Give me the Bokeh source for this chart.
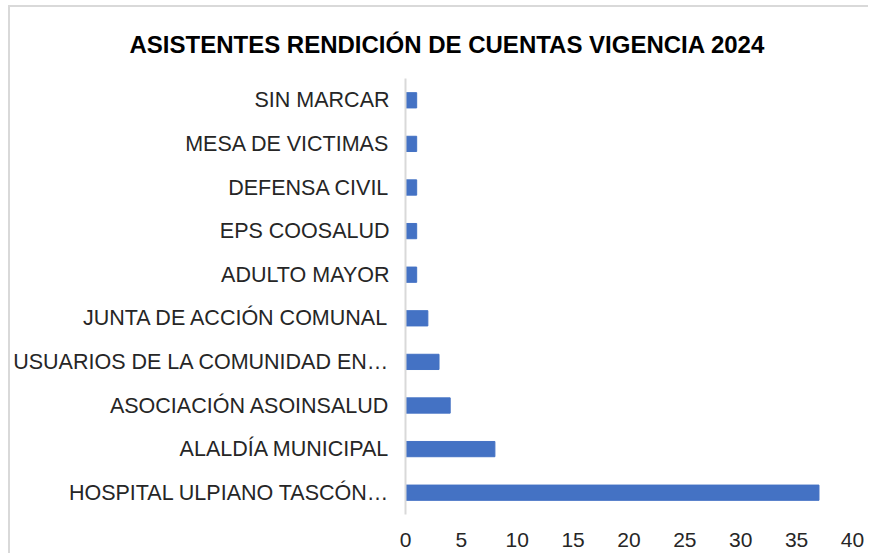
from bokeh.plotting import figure
from bokeh.models import FactorRange, Range1d, FixedTicker
from bokeh.embed import file_html
from bokeh.resources import INLINE

# Data (bottom to top)
categories = [
    "HOSPITAL ULPIANO TASCÓN…",
    "ALALDÍA MUNICIPAL",
    "ASOCIACIÓN ASOINSALUD",
    "USUARIOS DE LA COMUNIDAD EN…",
    "JUNTA DE ACCIÓN COMUNAL",
    "ADULTO MAYOR",
    "EPS COOSALUD",
    "DEFENSA CIVIL",
    "MESA DE VICTIMAS",
    "SIN MARCAR",
]
values = [37, 8, 4, 3, 2, 1, 1, 1, 1, 1]
x_ticks = [0, 5, 10, 15, 20, 25, 30, 35, 40]
title_text = "ASISTENTES RENDICIÓN DE CUENTAS VIGENCIA 2024"

FONT = "Liberation Sans"

p = figure(
    width=860, height=548,
    y_range=FactorRange(*categories, range_padding=0),
    x_range=Range1d(0, 40),
    output_backend="svg", toolbar_location=None,
    min_border_left=394, min_border_right=18,
    min_border_top=71, min_border_bottom=41,
)
p.styles = {"border-left": "2px solid #d9d9d9", "border-top": "2px solid #d9d9d9",
            "margin-left": "8px", "margin-top": "5px"}
p.outline_line_color = None
p.background_fill_color = "white"
p.border_fill_color = "white"

p.title.text = title_text
p.title.align = "left"
p.title.offset = -276
p.title.standoff = 42
p.title.text_font = FONT
p.title.text_font_size = "24px"
p.title.text_font_style = "bold"
p.title.text_color = "#000000"

p.hbar(y=categories, right=values, left=0, height=0.35, color="#4472C4")

p.xgrid.grid_line_color = None
p.ygrid.grid_line_color = None

p.xaxis.ticker = FixedTicker(ticks=x_ticks)
p.xaxis.axis_line_color = None
p.xaxis.major_tick_line_color = None
p.xaxis.minor_tick_line_color = None
p.xaxis.major_label_text_font = FONT
p.xaxis.major_label_text_font_size = "21px"
p.xaxis.major_label_text_color = "#262626"
p.xaxis.major_label_standoff = 12

p.yaxis.axis_line_color = "#d9d9d9"
p.yaxis.axis_line_width = 2
p.yaxis.major_tick_line_color = None
p.yaxis.minor_tick_line_color = None
p.yaxis.major_label_text_font = FONT
p.yaxis.major_label_text_font_size = "21.5px"
p.yaxis.major_label_text_color = "#262626"
p.yaxis.major_label_standoff = 10

open("out.html", "w").write(file_html(p, INLINE))
